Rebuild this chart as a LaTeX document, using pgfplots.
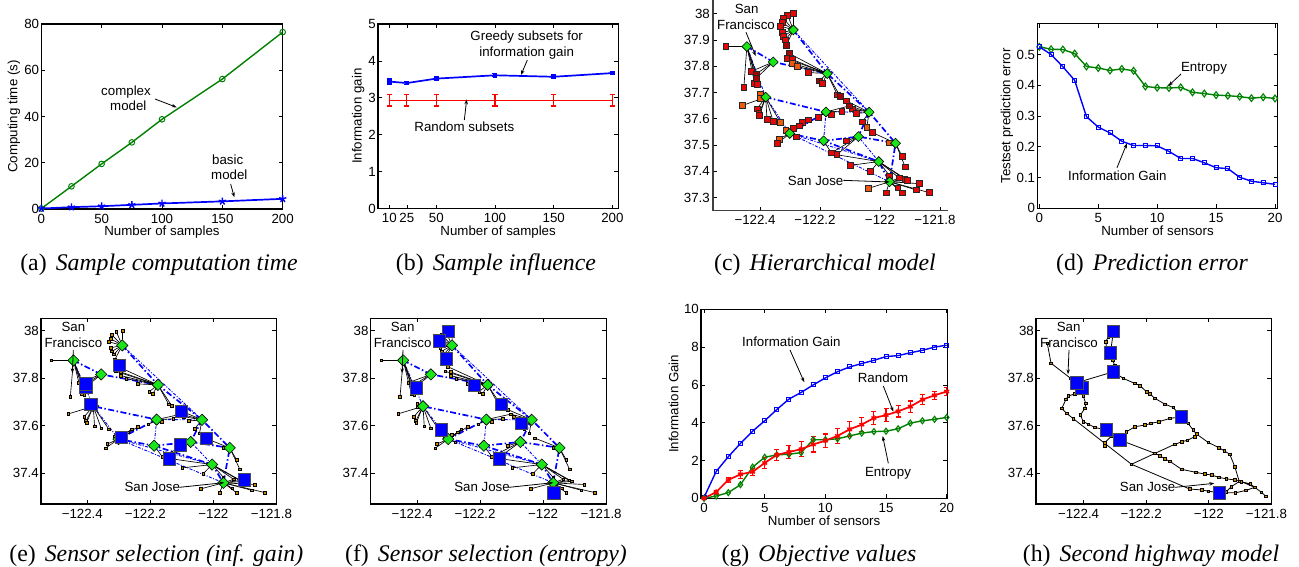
\documentclass[border=0pt]{standalone}
\usepackage{fontspec}
\usepackage{pgfplots}
\usepackage{pgfplotstable}
\pgfplotsset{compat=1.18}
\usetikzlibrary{arrows.meta}
\setmainfont{Liberation Sans}
\newfontfamily\capfont{Liberation Serif}
\definecolor{mgreen}{rgb}{0,0.5,0}
\definecolor{dgreen}{rgb}{0.1,0.9,0.1}
\definecolor{sens}{rgb}{0.8,0.53,0}
\definecolor{sred}{rgb}{0.9,0.03,0.03}
\definecolor{sorange}{rgb}{0.93,0.35,0.05}
\definecolor{sdark}{rgb}{0.65,0.02,0.02}

% sensors with the node they report to
\pgfplotstableread{
x y nx ny t
-122.514 37.875 -122.444 37.875 r
-122.412 37.771 -122.444 37.875 d
-122.412 37.755 -122.444 37.875 d
-122.418 37.734 -122.444 37.875 r
-122.409 37.730 -122.444 37.875 r
-122.454 37.721 -122.444 37.875 r
-122.288 38.000 -122.289 37.938 r
-122.308 37.995 -122.289 37.938 r
-122.322 37.982 -122.289 37.938 r
-122.326 37.966 -122.289 37.938 r
-122.332 37.953 -122.289 37.938 r
-122.326 37.928 -122.289 37.938 r
-122.322 37.913 -122.289 37.938 r
-122.316 37.900 -122.289 37.938 r
-122.312 37.880 -122.289 37.938 d
-122.428 37.781 -122.356 37.816 r
-122.412 37.771 -122.356 37.816 d
-122.412 37.755 -122.356 37.816 d
-122.303 37.849 -122.176 37.772 d
-122.310 37.829 -122.176 37.772 r
-122.293 37.826 -122.176 37.772 r
-122.293 37.811 -122.176 37.772 o
-122.276 37.798 -122.176 37.772 o
-122.239 37.776 -122.176 37.772 r
-122.203 37.744 -122.176 37.772 d
-122.192 37.734 -122.176 37.772 r
-122.142 37.691 -122.176 37.772 r
-122.132 37.684 -122.176 37.772 d
-122.399 37.693 -122.381 37.682 o
-122.399 37.678 -122.381 37.682 o
-122.460 37.650 -122.381 37.682 o
-122.410 37.638 -122.381 37.682 r
-122.404 37.620 -122.381 37.682 r
-122.402 37.613 -122.381 37.682 r
-122.377 37.597 -122.381 37.682 r
-122.356 37.589 -122.381 37.682 r
-122.332 37.586 -122.381 37.682 o
-122.112 37.668 -122.036 37.625 r
-122.102 37.649 -122.036 37.625 d
-122.093 37.638 -122.036 37.625 r
-122.078 37.620 -122.036 37.625 r
-122.059 37.588 -122.036 37.625 r
-122.044 37.568 -122.036 37.625 o
-122.127 37.629 -122.180 37.626 r
-122.163 37.616 -122.180 37.626 r
-122.206 37.606 -122.180 37.626 r
-122.102 37.649 -122.180 37.626 d
-122.239 37.596 -122.301 37.544 r
-122.259 37.586 -122.301 37.544 r
-122.270 37.573 -122.301 37.544 r
-122.289 37.563 -122.301 37.544 r
-122.314 37.555 -122.301 37.544 o
-122.337 37.523 -122.301 37.544 o
-122.342 37.506 -122.301 37.544 r
-122.279 37.531 -122.301 37.544 r
-122.162 37.470 -122.188 37.516 r
-122.112 37.516 -122.072 37.532 r
-122.144 37.463 -122.072 37.532 r
-122.162 37.470 -122.072 37.532 r
-122.026 37.548 -121.948 37.507 r
-121.968 37.508 -121.948 37.507 o
-121.926 37.456 -121.948 37.507 r
-121.916 37.417 -121.948 37.507 r
-122.144 37.463 -122.004 37.437 r
-122.098 37.423 -122.004 37.437 r
-122.032 37.399 -122.004 37.437 r
-121.968 37.383 -122.004 37.437 r
-121.936 37.375 -122.004 37.437 r
-121.917 37.370 -122.004 37.437 r
-121.908 37.366 -122.004 37.437 r
-121.968 37.383 -121.968 37.360 r
-121.936 37.375 -121.968 37.360 r
-121.917 37.370 -121.968 37.360 r
-121.908 37.366 -121.968 37.360 r
-121.869 37.353 -121.968 37.360 r
-121.879 37.329 -121.968 37.360 r
-121.836 37.319 -121.968 37.360 r
-121.926 37.318 -121.968 37.360 r
-121.940 37.337 -121.968 37.360 r
-121.980 37.318 -121.968 37.360 r
-122.039 37.335 -121.968 37.360 o
}\sensors

\pgfplotstableread{
x y
-122.444 37.875
-122.289 37.938
-122.356 37.816
-122.176 37.772
-122.381 37.682
-122.180 37.626
-122.036 37.625
-122.301 37.544
-122.188 37.516
-122.072 37.532
-121.948 37.507
-122.004 37.437
-121.968 37.360
}\nodes

% links between the nodes
\pgfplotstableread{
x y
-122.444 37.875
-122.356 37.816
-122.176 37.772
-122.036 37.625
-121.948 37.507
-121.968 37.360
-122.004 37.437
-122.188 37.516
-122.301 37.544
-122.180 37.626
-122.381 37.682
nan nan
-122.289 37.938
-122.176 37.772
nan nan
-122.188 37.516
-122.072 37.532
-121.948 37.507
nan nan
-122.036 37.625
-122.072 37.532
}\linkthick
\pgfplotstableread{
x y
-122.444 37.875
-122.381 37.682
-122.301 37.544
-122.004 37.437
-122.072 37.532
nan nan
-122.289 37.938
-122.036 37.625
-122.180 37.626
-122.188 37.516
nan nan
-122.301 37.544
-121.968 37.360
}\linkthin

% second highway model
\pgfplotstableread{
x y
-122.516 37.947
-122.504 37.863
-122.441 37.799
-122.422 37.781
-122.405 37.760
-122.428 37.734
-122.449 37.725
-122.456 37.711
-122.470 37.673
-122.454 37.652
-122.433 37.630
-122.247 37.438
-122.061 37.334
-122.023 37.330
-122.002 37.325
-121.967 37.318
-121.915 37.318
-121.882 37.328
-121.853 37.341
-121.867 37.355
-121.901 37.367
-121.928 37.344
-121.944 37.323
-121.967 37.318
nan nan
-122.422 37.781
-122.305 37.827
-122.300 37.851
-122.307 37.877
-122.314 37.907
-122.327 37.930
-122.329 37.954
-122.321 37.975
-122.305 37.996
-122.314 37.907
nan nan
-122.305 37.827
-122.273 37.799
-122.236 37.778
-122.220 37.769
-122.199 37.743
-122.188 37.734
-122.172 37.715
-122.140 37.691
-122.114 37.677
-122.087 37.638
-122.066 37.610
-122.050 37.582
-122.039 37.565
-122.002 37.530
-121.968 37.508
-121.951 37.495
-121.933 37.480
-121.917 37.428
-121.903 37.367
nan nan
-122.087 37.638
-122.124 37.631
-122.160 37.617
-122.185 37.610
-122.204 37.603
-122.236 37.596
-122.263 37.575
-122.284 37.540
-122.311 37.557
-122.332 37.529
-122.332 37.515
nan nan
-122.311 37.557
-122.327 37.582
-122.364 37.593
-122.385 37.607
-122.401 37.617
-122.410 37.645
-122.396 37.673
-122.393 37.694
-122.401 37.725
-122.405 37.760
nan nan
-122.284 37.540
-122.172 37.484
-122.156 37.474
-122.140 37.460
-122.124 37.450
-122.087 37.417
-122.041 37.404
-122.013 37.397
-121.991 37.393
-121.968 37.383
-121.944 37.377
-121.917 37.372
-121.896 37.365
-121.853 37.341
-121.832 37.320
-121.818 37.304
nan nan
-122.247 37.438
-122.172 37.484
-122.109 37.522
-122.087 37.532
-122.069 37.539
-122.045 37.554
-122.039 37.565
}\roads

\pgfplotsset{
  /pgf/number format/assume math mode=true,
  panel/.style={
    scale only axis, anchor=south west,
    tick align=inside, major tick length=4pt,
    axis line style={line width=1.2pt},
    every tick/.style={black,line width=0.7pt},
    xticklabel style={inner sep=0pt,anchor=north,yshift=-4.8pt},
    yticklabel style={inner sep=0pt,anchor=east,xshift=-2pt},
    xlabel style={at={(axis description cs:0.5,0)},anchor=base,yshift=-26.8pt},
    ylabel style={at={(axis description cs:0,0.5)},anchor=base},
  },
  mapx/.style={
    xtick={-122.4,-122.2,-122,-121.8},
    xticklabels={−122.4\kern10pt,−122.2\kern10pt,−122,−121.8\kern10pt},
  },
  mapbox/.style={
    panel, mapx, width=235.4pt, height=185.7pt,
    xmin=-122.547, xmax=-121.8, ymin=37.271, ymax=38.052,
    ytick={37.4,37.6,37.8,38}, yticklabels={37.4,37.6,37.8,38},
    unbounded coords=jump,
  },
  thicklink/.style={blue,line width=1.7pt,dash pattern=on 6pt off 2.5pt on 1.5pt off 2.5pt},
  thinlink/.style={blue,line width=0.9pt,dash pattern=on 3pt off 1.5pt on 1pt off 1.5pt},
  nodemark/.style={only marks,mark=square*,mark size=#1,
    mark options={rotate=45,fill=dgreen,draw=black,line width=0.6pt}},
  small sensors/.style={only marks,mark=square*,mark size=1.3pt,
    mark options={fill=sens,draw=black,line width=0.6pt}},
  selected/.style={only marks,mark=square*,mark size=6.2pt,
    mark options={fill=blue,draw=black!70,line width=0.8pt}},
  star lines/.style={black,line width=0.65pt,
    quiver={u=\thisrow{nx}-\thisrow{x},v=\thisrow{ny}-\thisrow{y}}},
}

\newcommand{\basemap}{%
  \addplot[thicklink] table[x=x,y=y]{\linkthick};
  \addplot[thinlink] table[x=x,y=y]{\linkthin};
  \addplot[star lines] table[x=x,y=y]{\sensors};
  \addplot[small sensors] table[x=x,y=y]{\sensors};
  \addplot[nodemark=4pt] table[x=x,y=y]{\nodes};
}
% one line of annotation, x and baseline in the panel's 3x pixels
\newcommand{\lab}[3]{\node[anchor=base,inner sep=0pt] at (#1,#2) {#3};}
\newcommand{\arr}[4]{\draw[-{Stealth[length=5pt,width=3.5pt]},line width=0.8pt] (#1,#2) -- (#3,#4);}
\newcommand{\subcap}[4]{\node[anchor=base,inner sep=0pt,font=\capfont\fontsize{23.8}{26}\selectfont] at (#1pt,#2pt) {(#3)\hspace{0.38em}\textit{#4}};}

\begin{document}
\fontsize{13.3}{15}\selectfont
\begin{tikzpicture}
\useasboundingbox (0pt,0pt) rectangle (1299pt,566pt);

% (a)
\begin{axis}[panel, at={(41.3pt,357pt)}, width=241.4pt, height=185pt,
  xmin=0, xmax=200, ymin=0, ymax=80, xtick={0,50,100,150,200}, ytick={0,20,40,60,80},
  xlabel={Number of samples}, ylabel={Computing time (s)},
  ylabel style={yshift=24pt}]
\addplot[mgreen,line width=1.4pt,mark=o,mark size=2.8pt,mark options={line width=1pt}] coordinates {
  (0,0.2) (25,9.8) (50,19.5) (75,28.8) (100,38.8) (150,56.2) (200,76.5)};
\addplot[blue,line width=1.7pt,mark=star,mark size=3.8pt,mark options={line width=1.4pt}] coordinates {
  (0,0.2) (25,0.8) (50,1.2) (75,1.8) (100,2.4) (150,3.3) (200,4.4)};
\end{axis}

% (b)
\begin{axis}[panel, at={(378pt,357.5pt)}, width=240.3pt, height=184.5pt,
  xmin=0.4, xmax=205, ymin=0, ymax=5, xtick={10,25,50,100,150,200}, ytick={0,1,2,3,4,5},
  xlabel={Number of samples}, ylabel={Information gain},
  ylabel style={yshift=16.5pt}]
\addplot[blue,line width=1.7pt,mark=square*,mark size=1.5pt,
  error bars/.cd,y dir=both,y explicit,error bar style={line width=1.1pt},
  error mark options={rotate=90,mark size=2.5pt,line width=1.1pt,blue}] coordinates {
  (10,3.44) +- (0,0.07) (25,3.40) +- (0,0.05) (50,3.52) +- (0,0.05)
  (100,3.61) +- (0,0.04) (150,3.57) +- (0,0.05) (200,3.67) +- (0,0.04)};
\addplot[red,line width=1.7pt,mark=none,
  error bars/.cd,y dir=both,y explicit,error bar style={line width=1.2pt},
  error mark options={rotate=90,mark size=2.6pt,line width=1.2pt,red}] coordinates {
  (10,2.93) +- (0,0.15) (25,2.93) +- (0,0.15) (50,2.93) +- (0,0.15)
  (100,2.93) +- (0,0.15) (150,2.93) +- (0,0.15) (200,2.93) +- (0,0.15)};
\end{axis}

% (c)
\begin{axis}[panel, mapx, at={(713pt,355.3pt)}, width=235.3pt, height=210.7pt,
  axis x line*=bottom, axis y line*=left,
  axis line style={line width=1.2pt,black!75},
  xmin=-122.557, xmax=-121.772, ymin=37.25, ymax=38.052,
  ytick={37.3,37.4,37.5,37.6,37.7,37.8,37.9,38},
  yticklabels={37.3,37.4,37.5,37.6,37.7,37.8,37.9,38},
  yticklabel style={xshift=-1pt},
  unbounded coords=jump]
\addplot[thicklink] table[x=x,y=y]{\linkthick};
\addplot[thinlink] table[x=x,y=y]{\linkthin};
\addplot[star lines] table[x=x,y=y]{\sensors};
\addplot[only marks,mark=square*,scatter,scatter src=explicit symbolic,
  scatter/classes={
    r={mark=square*,mark size=2.9pt,fill=sred,draw=black!85,line width=0.7pt},
    o={mark=square*,mark size=2.9pt,fill=sorange,draw=black!85,line width=0.7pt},
    d={mark=square*,mark size=2.9pt,fill=sdark,draw=black!85,line width=0.7pt}}]
  table[x=x,y=y,meta=t]{\sensors};
\addplot[nodemark=3.5pt] table[x=x,y=y]{\nodes};
\end{axis}

% (d)
\begin{axis}[panel, at={(1037.3pt,357.7pt)}, width=240.4pt, height=184.6pt,
  xmin=-0.17, xmax=20.23, ymin=0, ymax=0.6, xtick={0,5,10,15,20}, ytick={0,0.1,0.2,0.3,0.4,0.5},
  xlabel={Number of sensors}, ylabel={Testset prediction error},
  ylabel style={yshift=27pt}]
\addplot[mgreen,line width=1.4pt,mark=diamond,mark size=3.4pt,mark options={line width=1.1pt}] coordinates {
  (0,0.525) (1,0.517) (2,0.516) (3,0.503) (4,0.461) (5,0.456) (6,0.448) (7,0.453) (8,0.447) (9,0.396) (10,0.392)
  (11,0.391) (12,0.393) (13,0.377) (14,0.373) (15,0.368) (16,0.366) (17,0.363) (18,0.358) (19,0.361) (20,0.357)};
\addplot[blue,line width=1.4pt,mark=square,mark size=2pt,mark options={line width=1pt}] coordinates {
  (0,0.525) (1,0.500) (2,0.460) (3,0.416) (4,0.298) (5,0.264) (6,0.245) (7,0.218) (8,0.204) (9,0.204) (10,0.203)
  (11,0.185) (12,0.162) (13,0.162) (14,0.148) (15,0.132) (16,0.129) (17,0.101) (18,0.088) (19,0.083) (20,0.078)};
\end{axis}

% (e)
\begin{axis}[mapbox, at={(41pt,62pt)}]
\basemap
\addplot[selected] coordinates {
  (-122.404,37.762) (-122.298,37.853) (-122.404,37.776) (-122.389,37.690) (-122.291,37.551)
  (-122.102,37.661) (-122.022,37.548) (-122.104,37.520) (-122.139,37.461) (-121.902,37.373)};
\end{axis}

% (f)
\begin{axis}[mapbox, at={(370.7pt,62pt)}]
\basemap
\addplot[selected] coordinates {
  (-122.301,37.996) (-122.329,37.957) (-122.306,37.881) (-122.402,37.760) (-122.218,37.770)
  (-122.132,37.689) (-122.322,37.582) (-122.068,37.609) (-122.139,37.460) (-121.966,37.317)};
\end{axis}

% (g)
\begin{axis}[panel, at={(701pt,67.7pt)}, width=246.3pt, height=189pt,
  xmin=-0.25, xmax=20.05, ymin=0, ymax=10, xtick={0,5,10,15,20}, ytick={0,2,4,6,8,10},
  xlabel={Number of sensors}, ylabel={Information Gain},
  ylabel style={yshift=22.7pt}]
\addplot[blue,line width=1.4pt,mark=square,mark size=2pt,mark options={line width=1pt}] coordinates {
  (0,0.05) (1,1.42) (2,2.2) (3,2.9) (4,3.55) (5,4.1) (6,4.7) (7,5.25) (8,5.6) (9,6) (10,6.37)
  (11,6.7) (12,6.95) (13,7.13) (14,7.3) (15,7.5) (16,7.55) (17,7.7) (18,7.83) (19,8) (20,8.1)};
\addplot[mgreen,line width=1.4pt,mark=diamond,mark size=3pt,mark options={line width=1.1pt}] coordinates {
  (0,0) (1,0.12) (2,0.3) (3,0.72) (4,1.65) (5,2.17) (6,2.3) (7,2.33) (8,2.42) (9,3.1) (10,3.1)
  (11,3.15) (12,3.3) (13,3.45) (14,3.53) (15,3.55) (16,3.68) (17,3.98) (18,4.1) (19,4.18) (20,4.28)};
\addplot[red,line width=1.7pt,mark=asterisk,mark size=2.8pt,mark options={line width=1.4pt},
  error bars/.cd,y dir=both,y explicit,error bar style={line width=1.1pt},
  error mark options={rotate=90,mark size=2.5pt,line width=1.1pt,red}] coordinates {
  (0,0) +- (0,0.05) (1,0.33) +- (0,0.1) (2,0.97) +- (0,0.12) (3,1.27) +- (0,0.2) (4,1.4) +- (0,0.2)
  (5,1.87) +- (0,0.3) (6,2.3) +- (0,0.3) (7,2.45) +- (0,0.33) (8,2.6) +- (0,0.4) (9,2.85) +- (0,0.4)
  (10,3.05) +- (0,0.35) (11,3.3) +- (0,0.38) (12,3.65) +- (0,0.4) (13,3.9) +- (0,0.38) (14,4.25) +- (0,0.35)
  (15,4.4) +- (0,0.33) (16,4.6) +- (0,0.3) (17,4.85) +- (0,0.3) (18,5.22) +- (0,0.25) (19,5.45) +- (0,0.22)
  (20,5.65) +- (0,0.2)};
\end{axis}

% (h)
\begin{axis}[mapbox, at={(1036pt,62pt)}, xmin=-122.552]
\addplot[black,line width=0.8pt,mark=square*,mark size=1.3pt,
  mark options={fill=sens,draw=black,line width=0.6pt}] table[x=x,y=y]{\roads};
\addplot[selected] coordinates {
  (-122.405,37.760) (-122.422,37.781) (-122.305,37.996) (-122.314,37.907) (-122.305,37.827)
  (-122.327,37.582) (-122.284,37.540) (-122.087,37.638) (-121.967,37.318)};
\end{axis}

% annotations, in 3x pixels of each panel
\begin{scope}[shift={(0pt,566pt)},x=0.33333pt,y=-0.33333pt]
\lab{378}{287}{complex} \lab{385}{332}{model}
\arr{465}{297}{530}{322}
\lab{683}{495}{basic} \lab{688}{540}{model}
\arr{692}{552}{703}{592}
\end{scope}
\begin{scope}[shift={(320pt,566pt)},x=0.33333pt,y=-0.33333pt]
\lab{620}{122}{Greedy subsets for} \lab{620}{170}{information gain}
\arr{622}{180}{603}{225}
\lab{433}{395}{Random subsets}
\arr{433}{360}{440}{298}
\end{scope}
\begin{scope}[shift={(640pt,566pt)},x=0.33333pt,y=-0.33333pt]
\lab{320}{42}{San} \lab{318}{90}{Francisco}
\arr{318}{97}{347}{168}
\lab{527}{557}{San Jose}
\arr{610}{541}{749}{546}
\end{scope}
\begin{scope}[shift={(980pt,566pt)},x=0.33333pt,y=-0.33333pt]
\lab{672}{215}{Entropy}
\arr{603}{222}{565}{258}
\lab{412}{541}{Information Gain}
\arr{411}{503}{441}{430}
\end{scope}
\begin{scope}[shift={(0pt,276pt)},x=0.33333pt,y=-0.33333pt]
\lab{220}{125}{San} \lab{220}{171}{Francisco}
\arr{220}{180}{217}{250}
\lab{457}{605}{San Jose}
\arr{538}{592}{672}{578}
\end{scope}
\begin{scope}[shift={(320pt,276pt)},x=0.33333pt,y=-0.33333pt]
\lab{248}{125}{San} \lab{248}{171}{Francisco}
\arr{249}{180}{246}{250}
\lab{486}{605}{San Jose}
\arr{567}{592}{700}{578}
\end{scope}
\begin{scope}[shift={(640pt,276pt)},x=0.33333pt,y=-0.33333pt]
\lab{454}{170}{Information Gain}
\arr{450}{180}{493}{277}
\lab{729}{277}{Random}
\arr{730}{288}{760}{365}
\lab{744}{560}{Entropy}
\arr{745}{520}{728}{438}
\end{scope}
\begin{scope}[shift={(980pt,276pt)},x=0.33333pt,y=-0.33333pt]
\lab{266}{125}{San} \lab{267}{171}{Francisco}
\arr{267}{180}{264}{253}
\lab{503}{605}{San Jose}
\arr{585}{592}{703}{580}
\end{scope}

% captions
\subcap{159}{295.3}{a}{Sample computation time}
\subcap{496}{295.3}{b}{Sample influence}
\subcap{825}{295.3}{c}{Hierarchical model}
\subcap{1152}{295.3}{d}{Prediction error}
\subcap{156.3}{4.3}{e}{Sensor selection (inf. gain)}
\subcap{486}{4.3}{f}{Sensor selection (entropy)}
\subcap{819}{4.3}{g}{Objective values}
\subcap{1151}{4.3}{h}{Second highway model}
\end{tikzpicture}
\end{document}
